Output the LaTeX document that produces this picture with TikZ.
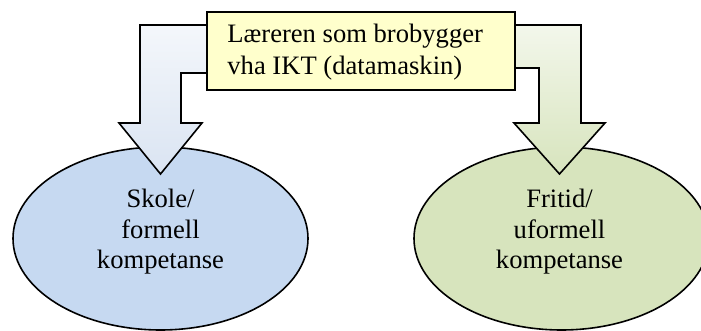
\documentclass[tikz,border=0pt]{standalone}
\usepackage{fontspec}
\setmainfont{Liberation Serif}
\usetikzlibrary{shapes.geometric}

\definecolor{boksgul}{RGB}{255,255,204}
\definecolor{skoleblaa}{RGB}{198,217,241}
\definecolor{fritidgronn}{RGB}{215,228,189}
\definecolor{pilblaa}{RGB}{218,228,242}
\definecolor{pilgronn}{RGB}{215,228,189}

\begin{document}
\begin{tikzpicture}[x=0.5pt,y=-0.5pt,
    kompetanse/.style={ellipse, draw=black, line width=0.8pt,
        minimum width=147.5pt, minimum height=91.5pt, inner sep=0pt},
    tekst/.style={align=center, font=\fontsize{13.3}{15.3}\selectfont},
    pil/.style={draw=black, line width=0.8pt, line join=miter}]
\useasboundingbox (0,0) rectangle (701,331);

% Skole - formell kompetanse
\node[kompetanse, fill=skoleblaa] (skole) at (160.5,238.5) {};
\node[tekst] (skoletekst) at (160.5,232) {Skole/\\formell\\kompetanse};

% Fritid - uformell kompetanse
\node[kompetanse, fill=fritidgronn] (fritid) at (561.5,238.5) {};
\node[tekst] (fritidtekst) at (559.5,232) {Fritid/\\uformell\\kompetanse};

% Pil ned til skole
\draw[pil, top color=white!70!pilblaa, bottom color=pilblaa]
    (215,25) -- (140,25) -- (140,123) -- (119,123) -- (160.5,174)
    -- (202,123) -- (181,123) -- (181,73) -- (215,73);

% Pil ned til fritid
\draw[pil, top color=white!70!pilgronn, bottom color=pilgronn]
    (505,25) -- (581,25) -- (581,123) -- (605,123) -- (559.5,174)
    -- (514,123) -- (539,123) -- (539,68) -- (505,68);

% Laereren som brobygger
\node[draw=black, line width=0.8pt, fill=boksgul, minimum width=154pt,
    minimum height=39pt] (bro) at (361,51) {};
\node[anchor=west, align=left, inner sep=0pt,
    font=\fontsize{13.3}{16}\selectfont] (brotekst) at (227,52)
    {Læreren som brobygger\\vha IKT (datamaskin)};

\end{tikzpicture}
\end{document}
